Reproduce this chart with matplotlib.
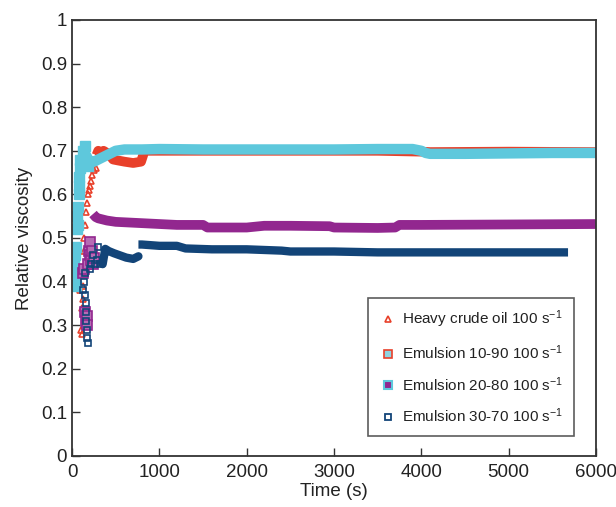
import numpy as np
import matplotlib.pyplot as plt
from matplotlib.lines import Line2D

plt.rcParams['font.family'] = ['Liberation Sans', 'DejaVu Sans']
plt.rcParams['mathtext.default'] = 'regular'

RED = '#e8402a'
CYAN = '#5ec8dc'
PURPLE = '#92278f'
NAVY = '#124478'

# --- heavy crude oil 100 s-1 ---
crude_early_t = [30, 40, 50, 60, 70, 80, 90, 100, 110, 115, 120, 125, 130, 135, 140,
                 150, 160, 170, 180, 190, 200, 215, 230, 250, 270]
crude_early_v = [0.45, 0.42, 0.44, 0.46, 0.41, 0.43, 0.38, 0.29, 0.28, 0.34, 0.36, 0.39,
                 0.43, 0.47, 0.50, 0.53, 0.56, 0.58, 0.60, 0.61, 0.62, 0.63, 0.645, 0.655, 0.66]
crude_t = [280, 300, 330, 360, 400, 430, 470, 520, 600, 700, 790, 830, 1500, 2500,
           3500, 4000, 4100, 5000, 6000]
crude_v = [0.69, 0.70, 0.695, 0.70, 0.695, 0.69, 0.68, 0.678, 0.675, 0.672, 0.675, 0.70,
           0.70, 0.70, 0.70, 0.698, 0.697, 0.698, 0.697]

# --- emulsion 10-90 ---
e1090_early_t = [20, 25, 30, 40, 45, 50, 55, 60, 65, 70, 75, 80, 85, 90, 95, 120, 150, 180]
e1090_early_v = [0.41, 0.44, 0.46, 0.42, 0.39, 0.48, 0.52, 0.55, 0.53, 0.57, 0.60, 0.62,
                 0.64, 0.66, 0.68, 0.70, 0.71, 0.665]
e1090_t = [100, 130, 160, 200, 250, 300, 350, 400, 450, 500, 600, 800, 1000, 1500, 2000,
           2500, 3000, 3500, 3900, 4000, 4050, 4100, 4500, 5000, 5500, 6000]
e1090_v = [0.665, 0.685, 0.69, 0.675, 0.675, 0.68, 0.685, 0.69, 0.695, 0.70, 0.703, 0.703,
           0.704, 0.703, 0.703, 0.703, 0.703, 0.704, 0.704, 0.70, 0.695, 0.693, 0.693,
           0.694, 0.695, 0.695]

# --- emulsion 20-80 ---
e2080_early_t = [120, 140, 150, 160, 170, 175, 180, 190, 200, 210, 220, 230, 240, 250]
e2080_early_v = [0.42, 0.43, 0.33, 0.31, 0.32, 0.30, 0.44, 0.47, 0.46, 0.49, 0.45, 0.47,
                 0.44, 0.455]
e2080_t = [240, 270, 300, 400, 500, 700, 1000, 1200, 1500, 1550, 2000, 2200, 2500, 2950,
           3000, 3500, 3700, 3750, 4000, 5000, 6000]
e2080_v = [0.555, 0.548, 0.545, 0.54, 0.537, 0.535, 0.532, 0.53, 0.53, 0.524, 0.524, 0.528,
           0.528, 0.527, 0.524, 0.523, 0.524, 0.53, 0.53, 0.531, 0.532]

# --- emulsion 30-70 ---
e3070_early_t = [130, 140, 145, 150, 155, 160, 165, 170, 175, 180, 200, 220, 240, 260,
                 280, 300, 320]
e3070_early_v = [0.38, 0.40, 0.42, 0.37, 0.35, 0.33, 0.31, 0.29, 0.27, 0.26, 0.43, 0.44,
                 0.46, 0.44, 0.45, 0.48, 0.44]
e3070_t1 = [350, 380, 420, 480, 550, 620, 700, 760]
e3070_v1 = [0.44, 0.475, 0.47, 0.465, 0.46, 0.455, 0.452, 0.458]
e3070_t2 = [760, 800, 1000, 1200, 1300, 1600, 2000, 2400, 2500, 3000, 3500, 4000, 5000, 5680]
e3070_v2 = [0.485, 0.485, 0.482, 0.482, 0.476, 0.474, 0.474, 0.471, 0.469, 0.469, 0.467,
            0.467, 0.467, 0.467]

fig = plt.figure(figsize=(6.16, 5.07), dpi=100)
ax = fig.add_axes([0.117, 0.1006, 0.8505, 0.86])

# heavy crude
ax.plot(crude_t, crude_v, color=RED, lw=7, solid_capstyle='butt')
ax.plot(crude_early_t, crude_early_v, ls='none', marker='^', ms=5, mfc='none',
        mec=RED, mew=1.2)
# emulsion 10-90
ax.plot(e1090_t, e1090_v, color=CYAN, lw=7.5, solid_capstyle='butt')
ax.plot(e1090_early_t, e1090_early_v, ls='none', marker='s', ms=7, mfc=CYAN, mec=CYAN)
# emulsion 20-80
ax.plot(e2080_t, e2080_v, color=PURPLE, lw=7, solid_capstyle='butt')
ax.plot(e2080_early_t, e2080_early_v, ls='none', marker='s', ms=7, mfc='#b76bb4',
        mec=PURPLE, mew=1.2)
# emulsion 30-70
ax.plot(e3070_t1, e3070_v1, color=NAVY, lw=6, solid_capstyle='round')
ax.plot(e3070_t2, e3070_v2, color=NAVY, lw=6, solid_capstyle='butt')
ax.plot(e3070_early_t, e3070_early_v, ls='none', marker='s', ms=5, mfc='none',
        mec=NAVY, mew=1.2)

ax.set_xlim(0, 6000)
ax.set_ylim(0, 1)
ax.set_xticks(np.arange(0, 6001, 1000))
ax.set_yticks(np.arange(0, 1.01, 0.1))
ax.set_yticklabels(['0', '0.1', '0.2', '0.3', '0.4', '0.5', '0.6', '0.7', '0.8', '0.9', '1'])
ax.tick_params(direction='in', length=6, width=1, colors='#333333', labelsize=13.5,
               labelcolor='#222222')
ax.tick_params(axis='x', pad=6)
for s in ax.spines.values():
    s.set_color('#333333')
    s.set_linewidth(1.3)
ax.set_xlabel('Time (s)', fontsize=13.5, color='#222222', labelpad=1)
ax.set_ylabel('Relative viscosity', fontsize=13.5, color='#222222', labelpad=6)

handles = [
    Line2D([], [], ls='none', marker='^', ms=5, mfc='none', mec=RED, mew=1.2),
    Line2D([], [], ls='none', marker='s', ms=6, mfc='#8fd3e0', mec=RED, mew=1.2),
    Line2D([], [], ls='none', marker='s', ms=6, mfc=PURPLE, mec=CYAN, mew=1.5),
    Line2D([], [], ls='none', marker='s', ms=5, mfc='none', mec=NAVY, mew=1.3),
]
labels = ['Heavy crude oil 100 s$^{-1}$', 'Emulsion 10-90 100 s$^{-1}$',
          'Emulsion 20-80 100 s$^{-1}$', 'Emulsion 30-70 100 s$^{-1}$']
leg = ax.legend(handles, labels, loc='lower left', bbox_to_anchor=(0.565, 0.046),
                fontsize=11, labelspacing=0.85, handletextpad=0.3, handlelength=1.2,
                borderpad=0.7, frameon=True, fancybox=False, borderaxespad=0)
leg.get_frame().set_edgecolor('#333333')
leg.get_frame().set_linewidth(1.2)
for t in leg.get_texts():
    t.set_color('#222222')

fig.savefig('out.png', dpi=100)
